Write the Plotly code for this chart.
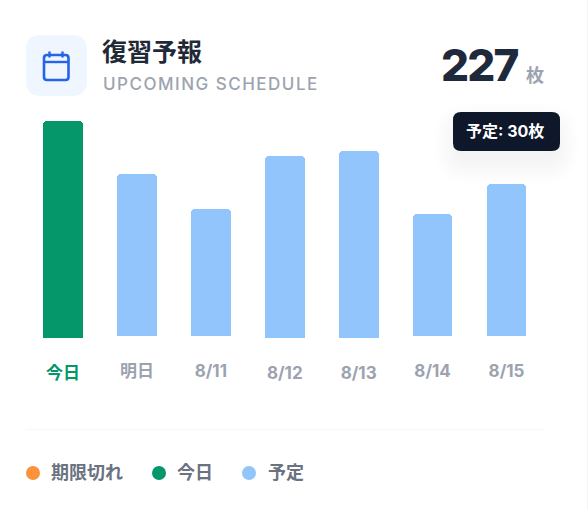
import plotly.graph_objects as go

W, H = 588, 510
categories = ["今日", "明日", "8/11", "8/12", "8/13", "8/14", "8/15"]
values = [43, 32, 25, 36, 37, 24, 30]
lowered = ["今日", "8/12", "8/13"]
legend_names = ["期限切れ", "今日", "予定"]
legend_colors = ["#fb923c", "#059669", "#93c5fd"]
total = 227

FONT = "Inter, 'Noto Sans CJK JP', sans-serif"
JP = "'Noto Sans CJK JP', sans-serif"
PX_PER_UNIT = 5.07
BLUE, GREEN = "#93c5fd", "#059669"

def px(x): return x / W
def py(y): return 1 - y / H

def rrect(x0, y0, x1, y1, r):
    return (f"M{px(x0+r)},{py(y0)} L{px(x1-r)},{py(y0)} Q{px(x1)},{py(y0)} {px(x1)},{py(y0+r)} "
            f"L{px(x1)},{py(y1-r)} Q{px(x1)},{py(y1)} {px(x1-r)},{py(y1)} "
            f"L{px(x0+r)},{py(y1)} Q{px(x0)},{py(y1)} {px(x0)},{py(y1-r)} "
            f"L{px(x0)},{py(y0+r)} Q{px(x0)},{py(y0)} {px(x0+r)},{py(y0)} Z")

fig = go.Figure()
low = [(c, v) for c, v in zip(categories, values) if c in lowered]
high = [(c, v) for c, v in zip(categories, values) if c not in lowered]

fig.add_bar(x=[c for c, _ in low], y=[v for _, v in low],
            xaxis="x2", yaxis="y2", width=0.54, showlegend=False,
            marker=dict(color=[GREEN if c == "今日" else BLUE for c, _ in low], line_width=0))
fig.add_bar(x=[c for c, _ in high], y=[v for _, v in high],
            xaxis="x", yaxis="y", width=0.535, showlegend=False,
            marker=dict(color=BLUE, line_width=0))

tickfont = dict(family=FONT, size=17, color="#9ca3af", weight=700)
xbase = dict(type="category", categoryorder="array", categoryarray=categories,
             range=[-0.5, 6.5], domain=[px(26), px(543.5)], showgrid=False, zeroline=False,
             showline=False, ticks="", tickfont=tickfont, anchor="free", fixedrange=True)
shapes = []
P = dict(xref="paper", yref="paper")
shapes.append(dict(type="line", **P, x0=px(587.5), x1=px(587.5), y0=0, y1=1,
                   line=dict(color="#f3f4f6", width=1)))
shapes.append(dict(type="line", **P, x0=px(26), x1=px(543), y0=py(429.5), y1=py(429.5),
                   line=dict(color="#f6f7f8", width=1)))
shapes.append(dict(type="path", **P, path=rrect(26, 35, 87, 96, 15), fillcolor="#eff6ff", line_width=0))
ICON = "#2563eb"
shapes.append(dict(type="path", **P, path=rrect(44, 55, 68.5, 80, 3),
                   line=dict(color=ICON, width=2.6), fillcolor="rgba(0,0,0,0)"))
shapes.append(dict(type="line", **P, x0=px(44), x1=px(68.5), y0=py(62), y1=py(62),
                   line=dict(color=ICON, width=2.4)))
for xp in (49.5, 62.5):
    shapes.append(dict(type="line", **P, x0=px(xp), x1=px(xp), y0=py(51.5), y1=py(57.5),
                       line=dict(color=ICON, width=2.4)))
for g in range(1, 13):
    shapes.append(dict(type="path", **P, layer="above",
                       path=rrect(453 - g * 2.2 + 8, 122 - g * 2.2 + 8, 560 + g * 2.2 - 8, 161 + g * 2.2 - 4, 10 + g * 2),
                       fillcolor="rgba(15,23,42,0.0055)", line_width=0))
shapes.append(dict(type="path", **P, layer="above", path=rrect(453, 112, 560, 151, 8),
                   fillcolor="#0f172a", line_width=0))

def note(text, x, y, size, color, anchor="left", family=FONT, weight=700):
    return dict(text=text, xref="paper", yref="paper", x=px(x), y=py(y), xanchor=anchor, yanchor="middle",
                showarrow=False, align="left", borderpad=0,
                font=dict(family=family, size=size, color=color, weight=weight))

annotations = [
    note("復習予報", 100.5, 50, 25, "#1f2937", family=JP),
    note("UPCOMING SCHEDULE", 101.5, 84, 17, "#9ca3af", weight=500),
    note(str(total), 440, 65, 44, "#1e293b", weight=800),
    note("枚", 524.5, 74, 18, "#9ca3af", family=JP),
    note("予定: 30枚", 465, 131, 16, "#ffffff"),
]
for name, color, dot_x, text_x in zip(legend_names, legend_colors, (33, 159, 249), (49.5, 176.5, 266.5)):
    shapes.append(dict(type="circle", **P, x0=px(dot_x - 7), x1=px(dot_x + 7), y0=py(480), y1=py(466),
                       fillcolor=color, line_width=0))
    annotations.append(note(name, text_x, 472.5, 18, "#6b7280"))

fig.update_layout(
    width=W, height=H, margin=dict(l=0, r=0, t=0, b=0, pad=0), autosize=False, showlegend=False,
    paper_bgcolor="#ffffff", plot_bgcolor="rgba(0,0,0,0)", barmode="overlay", bargap=0,
    barcornerradius=4, shapes=shapes, annotations=annotations, hovermode=False,
    xaxis=dict(xbase, tickmode="array", tickvals=[c for c, _ in high], ticktext=[c for c, _ in high],
               position=py(359)),
    xaxis2=dict(xbase, overlaying="x", side="bottom", tickmode="array",
                tickvals=[c for c, _ in low],
                ticktext=[f'<span style="color:{GREEN}">{c}</span>' if c == "今日" else c for c, _ in low],
                position=py(361)),
    yaxis=dict(domain=[py(336), py(100)], range=[0, 236 / PX_PER_UNIT], visible=False, fixedrange=True),
    yaxis2=dict(domain=[py(338), py(102.93)], range=[0, 236 / PX_PER_UNIT], visible=False, fixedrange=True,
                anchor="x2"),
    font=dict(family=FONT),
)
spacing_js = """
document.body.style.margin='0';
document.documentElement.style.overflow='hidden';
var rules = {'UPCOMING SCHEDULE':'1.5px','227':'-1.76px'};
document.querySelectorAll('.annotation-text').forEach(function(t){
  var s = rules[t.textContent];
  if(!s) return;
  var before = t.getBBox().x;
  t.style.letterSpacing = s;
  var after = t.getBBox().x;
  t.setAttribute('x', parseFloat(t.getAttribute('x')) + before - after);
});
"""
fig.write_html("out.html", config=dict(displayModeBar=False), post_script=spacing_js)
